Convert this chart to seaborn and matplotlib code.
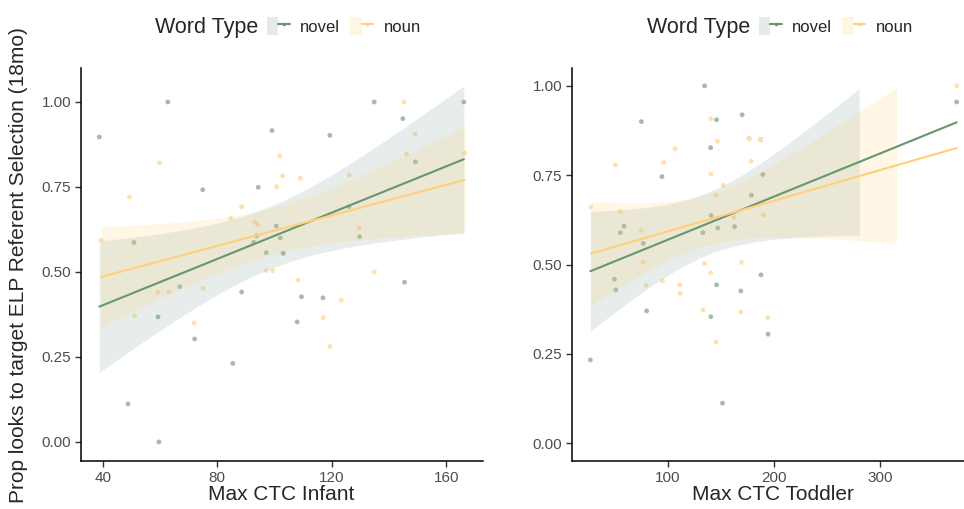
import numpy as np
import pandas as pd
import matplotlib
matplotlib.use("Agg")
import matplotlib.pyplot as plt
from matplotlib.patches import Patch
from matplotlib.lines import Line2D
from matplotlib.legend_handler import HandlerTuple
import seaborn as sns

sns.set_style("white")
plt.rcParams['font.family'] = ['Liberation Sans', 'DejaVu Sans']

# ---------------- data ----------------
infant_novel_x = [38.8, 62.7, 99.1, 74.9, 94.3, 100.6, 93.7, 92.7, 50.9, 97.1, 102.0, 66.9, 88.5, 59.3,
                  72.1, 85.4, 48.8, 59.6, 134.8, 144.8, 166.1, 119.3, 149.2, 126.0, 103.0, 129.7,
                  109.4, 116.9, 145.4, 107.9]
infant_novel_y = [0.897, 1.0, 0.916, 0.742, 0.749, 0.635, 0.606, 0.587, 0.587, 0.557, 0.600, 0.457, 0.441,
                  0.368, 0.303, 0.231, 0.112, 0.0, 1.0, 0.951, 1.0, 0.902, 0.824, 0.692, 0.555, 0.604,
                  0.427, 0.424, 0.470, 0.353]
infant_noun_x = [59.8, 101.8, 49.3, 100.7, 88.5, 84.7, 93.1, 94.1, 39.4, 97.0, 99.3, 59.2, 63.1, 75.1,
                 51.1, 71.9, 145.2, 149.1, 146.1, 166.4, 102.8, 109.0, 126.1, 129.6, 108.2, 123.3,
                 134.9, 117.0, 119.3]
infant_noun_y = [0.821, 0.842, 0.720, 0.750, 0.692, 0.658, 0.647, 0.638, 0.593, 0.504, 0.504, 0.440, 0.441,
                 0.452, 0.371, 0.350, 1.0, 0.906, 0.847, 0.850, 0.783, 0.776, 0.785, 0.630, 0.476, 0.417,
                 0.500, 0.366, 0.281]

# (two novel observations sit directly beneath noun points at ~(188, 0.85) and ~(177, 0.85))
toddler_novel_x = [187.8, 176.8, 134.8, 75.2, 146.1, 170.2, 140.5, 94.6, 189.8, 179.0, 141.0, 58.9, 55.4,
                   77.0, 133.2, 147.3, 163.0, 372.5, 49.8, 51.1, 146.1, 169.0, 188.0, 80.2, 140.7, 194.7,
                   27.1, 151.7]
toddler_novel_y = [0.850, 0.853, 1.0, 0.900, 0.905, 0.919, 0.827, 0.746, 0.752, 0.694, 0.637, 0.607, 0.589,
                   0.559, 0.589, 0.602, 0.606, 0.955, 0.459, 0.429, 0.443, 0.426, 0.471, 0.370, 0.354, 0.305,
                   0.233, 0.112]
toddler_noun_x = [140.7, 147.0, 176.8, 187.8, 106.9, 50.7, 96.2, 178.6, 140.7, 152.3, 145.4, 27.6, 55.4,
                  190.3, 75.2, 162.7, 77.0, 134.8, 169.6, 372.5, 79.6, 95.0, 111.3, 111.9, 140.5, 133.2,
                  169.0, 194.5, 145.7]
toddler_noun_y = [0.908, 0.845, 0.853, 0.850, 0.824, 0.779, 0.786, 0.789, 0.753, 0.722, 0.694, 0.661, 0.649,
                  0.639, 0.595, 0.632, 0.506, 0.503, 0.506, 1.0, 0.442, 0.454, 0.443, 0.419, 0.477, 0.373,
                  0.367, 0.351, 0.283]

word_types = ["novel", "noun"]
x_titles = ["Max CTC Infant", "Max CTC Toddler"]
y_title = "Prop looks to target ELP Referent Selection (18mo)"
legend_title = "Word Type"
infant_xticks = [40, 80, 120, 160]
toddler_xticks = [100, 200, 300]
y_ticks = [0.0, 0.25, 0.5, 0.75, 1.0]

line_colors = {"novel": "#66966F", "noun": "#FFCF7A"}
point_colors = {"novel": "#A2BDAA", "noun": "#FFE1AF"}
band_colors = {"novel": "#8BA79F", "noun": "#FFD27F"}


def make_df(nx, ny, ox, oy):
    return pd.DataFrame({
        "x": nx + ox,
        "y": ny + oy,
        "type": ["novel"] * len(nx) + ["noun"] * len(ox),
    })


df_inf = make_df(infant_novel_x, infant_novel_y, infant_noun_x, infant_noun_y)
df_tod = make_df(toddler_novel_x, toddler_novel_y, toddler_noun_x, toddler_noun_y)


def t975(df):
    z = 1.959964
    return z + (z**3 + z) / (4 * df) + (5 * z**5 + 16 * z**3 + 3 * z) / (96 * df**2)


def ci_band(x, y, n_grid=80):
    x = np.asarray(x, float)
    y = np.asarray(y, float)
    n = len(x)
    b, a = np.polyfit(x, y, 1)
    resid = y - (a + b * x)
    s = np.sqrt(np.sum(resid**2) / (n - 2))
    xm = x.mean()
    sxx = np.sum((x - xm) ** 2)
    g = np.linspace(x.min(), x.max(), n_grid)
    fit = a + b * g
    se = s * np.sqrt(1.0 / n + (g - xm) ** 2 / sxx)
    t = t975(n - 2)
    return g, fit - t * se, fit + t * se


fig = plt.figure(figsize=(9.64, 5.09), dpi=100)
W, H = 964, 509


def axes_px(x0, x1, ytop, ybot):
    return fig.add_axes([x0 / W, 1 - ybot / H, (x1 - x0) / W, (ybot - ytop) / H])


ax1 = axes_px(81, 483, 68, 461)
ax2 = axes_px(572, 975, 68, 461)

panels = [
    (ax1, df_inf, infant_xticks, (32.4, 172.8), (-0.056, 1.10), None),
    (ax2, df_tod, toddler_xticks, (9.8, 389.8), (-0.05, 1.05), (0.0, 1.0)),
]

for ax, df, xt, xl, yl, clip in panels:
    sns.scatterplot(data=df, x="x", y="y", hue="type", hue_order=word_types,
                    palette=point_colors, ax=ax, s=12, linewidth=0,
                    legend=False, zorder=1)
    for wt in word_types:
        sub = df[df["type"] == wt]
        g, lo, hi = ci_band(sub["x"], sub["y"])
        if clip is not None:
            mask = (lo >= clip[0]) & (hi <= clip[1])
        else:
            mask = np.ones_like(g, bool)
        ax.fill_between(g, lo, hi, where=mask, color=band_colors[wt], alpha=0.2,
                        linewidth=0, zorder=2)
    for wt in word_types:
        sub = df[df["type"] == wt]
        sns.regplot(data=sub, x="x", y="y", ax=ax, scatter=False, ci=None, truncate=True,
                    line_kws=dict(color=line_colors[wt], lw=1.5, zorder=3))
    ax.set_xlim(*xl)
    ax.set_ylim(*yl)
    ax.set_xticks(xt)
    ax.set_xticklabels([str(v) for v in xt])
    ax.set_yticks(y_ticks)
    ax.set_yticklabels([f"{v:.2f}" for v in y_ticks])
    ax.set_xlabel("")
    ax.set_ylabel("")
    for side in ["top", "right"]:
        ax.spines[side].set_visible(False)
    for side in ["left", "bottom"]:
        ax.spines[side].set_color("black")
        ax.spines[side].set_linewidth(1.1)
    ax.tick_params(axis="both", which="major", length=4, width=1.0, color="#333333",
                   labelcolor="#4D4D4D", labelsize=11, pad=3, direction="out",
                   bottom=True, left=True)

fig.text(281 / W, 1 - 494 / H, x_titles[0], ha="center", va="center", fontsize=15)
fig.text(773 / W, 1 - 494 / H, x_titles[1], ha="center", va="center", fontsize=15)
fig.text(19 / W, 1 - 265 / H, y_title, ha="center", va="center", rotation=90, fontsize=15)

# legends
handles = []
for wt in word_types:
    p = Patch(facecolor=band_colors[wt], alpha=0.22, edgecolor="none")
    l = Line2D([], [], color=line_colors[wt], lw=1.5, marker="o", markersize=2.5,
               markerfacecolor=line_colors[wt], markeredgewidth=0)
    handles.append((p, l))

for x_title, x_key in [(155, 267), (647, 759)]:
    fig.text(x_title / W, 1 - 27 / H, legend_title, ha="left", va="center", fontsize=15.5)
    fig.legend(handles, word_types, handler_map={tuple: HandlerTuple(ndivide=None, pad=0)},
               loc="center left", bbox_to_anchor=(x_key / W, 1 - 26 / H), ncol=2, frameon=False,
               fontsize=12, handlelength=1.35, handleheight=1.35, handletextpad=0.65,
               columnspacing=0.6, borderpad=0, borderaxespad=0)

fig.savefig("out.png", dpi=100)
